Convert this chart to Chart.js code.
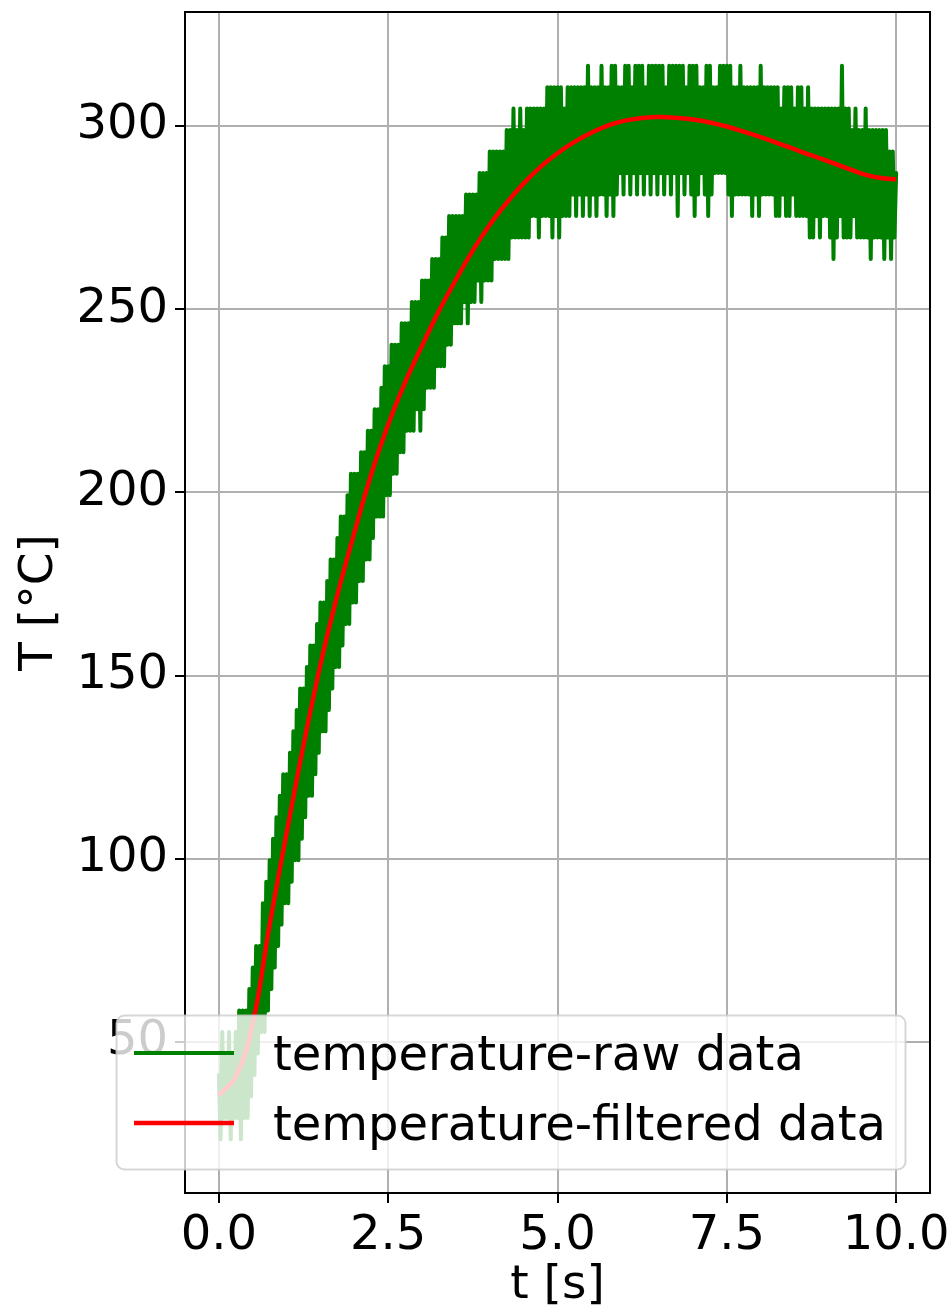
<!DOCTYPE html>
<html>
<head>
<meta charset="utf-8">
<script src="https://cdn.jsdelivr.net/npm/chart.js@4.4.1/dist/chart.umd.min.js"></script>
<style>
    html, body { margin: 0; padding: 0; background: #fff; }
    canvas { display: block; }
</style>
</head>
<body>
<canvas id="tempChart" width="951" height="1314"></canvas>
<script>
// thermocouple samples, ADC counts, one every RAW_DT seconds
const RAW_DT = 0.025;
const DEG_PER_COUNT = 1500 / 256;
const rawCounts = [
    7, 4, 9, 5, 8, 5, 9, 4, 8, 5,            9, 5, 10, 4, 10, 5, 10, 5, 11, 6,
    12, 7, 13, 8, 13, 9, 15, 9, 16, 10,      17, 11, 18, 12, 19, 13, 20, 14, 21, 15,
    21, 15, 22, 16, 23, 17, 24, 17, 25, 18,  25, 19, 26, 20, 27, 20, 27, 21, 28, 22,
    29, 23, 29, 23, 30, 24, 31, 25, 31, 26,  32, 26, 33, 27, 33, 28, 34, 28, 35, 29,
    35, 29, 35, 30, 36, 30, 36, 31, 37, 31,  37, 32, 38, 33, 38, 33, 39, 33, 40, 34,
    40, 34, 41, 35, 41, 35, 41, 36, 42, 36,  42, 37, 42, 37, 43, 37, 43, 38, 43, 37,
    44, 38, 44, 39, 44, 39, 45, 39, 45, 40,  45, 40, 46, 40, 46, 41, 47, 41, 47, 42,
    47, 42, 47, 42, 47, 43, 48, 42, 48, 43,  48, 43, 48, 44, 49, 43, 49, 44, 49, 44,
    50, 44, 50, 45, 50, 45, 50, 45, 50, 45,  51, 45, 51, 46, 52, 46, 51, 46, 52, 46,
    51, 46, 52, 46, 52, 47, 52, 47, 52, 46,  52, 47, 52, 47, 53, 47, 53, 46, 53, 47,
    53, 46, 53, 47, 52, 47, 53, 47, 53, 48,  53, 47, 53, 48, 53, 47, 53, 48, 54, 47,
    53, 48, 53, 47, 53, 48, 54, 48, 53, 47,  53, 48, 54, 47, 54, 48, 53, 49, 53, 48,
    54, 49, 54, 48, 53, 49, 54, 48, 54, 49,  54, 48, 53, 49, 54, 48, 54, 49, 54, 48,
    54, 49, 54, 48, 53, 49, 54, 48, 54, 49,  54, 47, 54, 49, 54, 48, 53, 49, 54, 48,
    54, 47, 54, 48, 53, 49, 53, 48, 54, 47,  54, 48, 53, 49, 53, 49, 54, 49, 54, 49,
    54, 48, 54, 47, 53, 48, 53, 48, 54, 48,  53, 48, 53, 48, 53, 47, 53, 48, 53, 47,
    54, 48, 53, 48, 53, 48, 53, 48, 53, 47,  53, 47, 52, 48, 53, 47, 53, 47, 53, 48,
    52, 47, 53, 47, 53, 47, 52, 47, 53, 46,  52, 46, 52, 47, 52, 46, 52, 47, 52, 47,
    52, 46, 52, 45, 52, 46, 52, 47, 54, 46,  52, 46, 52, 46, 51, 47, 52, 46, 51, 46,
    51, 46, 52, 46, 51, 45, 51, 46, 51, 46,  51, 46, 51, 45, 51, 46, 50, 45, 50, 46,
    49
];

// filtered temperature, °C
const filteredTime = [
    0, 0.25, 0.5, 0.75, 1, 1.25, 1.5, 1.75, 2, 2.25, 2.5, 2.75, 3, 3.25,
    3.5, 3.75, 4, 4.25, 4.5, 4.75, 5, 5.25, 5.5, 5.75, 6, 6.25, 6.5, 6.75,
    7, 7.25, 7.5, 7.75, 8, 8.25, 8.5, 8.75, 9, 9.25, 9.5, 9.75, 10
];
const filteredTemp = [
    35.5, 40.5, 55, 82, 107, 131, 153, 172, 189, 205, 218.5, 230, 240, 249.5,
    258, 266, 273, 279, 284.3, 288.8, 292.5, 295.6, 298.1, 300.1, 301.4, 302.1, 302.4, 302.2,
    301.7, 300.9, 299.8, 298.4, 296.9, 295.3, 293.6, 291.9, 290.3, 288.6, 286.9, 285.8, 285.4
];

const xTicks = [0, 2.5, 5, 7.5, 10];
const yTicks = [50, 100, 150, 200, 250, 300];
const seriesLabels = ['temperature-raw data', 'temperature-filtered data'];

const FONT = '"DejaVu Sans", "Liberation Sans", sans-serif';

const rawPoints = rawCounts.map((c, i) => ({ x: i * RAW_DT, y: c * DEG_PER_COUNT }));
const filteredPoints = filteredTime.map((t, i) => ({ x: t, y: filteredTemp[i] }));

// box round the axes, like a matplotlib frame
const framePlugin = {
    id: 'frame',
    afterDatasetsDraw(chart) {
        const { ctx, chartArea: a } = chart;
        ctx.save();
        ctx.strokeStyle = '#000';
        ctx.lineWidth = 2;
        ctx.strokeRect(a.left, a.top, a.right - a.left, a.bottom - a.top);
        ctx.restore();
    }
};

// legend drawn last so it sits over the axis and tick labels
const legendPlugin = {
    id: 'boxLegend',
    afterDraw(chart) {
        const { ctx } = chart;
        const box = { x: 116.5, y: 1015.5, w: 789, h: 154, r: 8 };
        ctx.save();
        ctx.beginPath();
        ctx.roundRect(box.x, box.y, box.w, box.h, box.r);
        ctx.fillStyle = 'rgba(255, 255, 255, 0.8)';
        ctx.fill();
        ctx.strokeStyle = 'rgba(204, 204, 204, 0.8)';
        ctx.lineWidth = 2;
        ctx.stroke();

        const rows = [
            { color: '#008000', width: 4, lineY: 1053, textY: 1070 },
            { color: '#ff0000', width: 4.5, lineY: 1123, textY: 1140 }
        ];
        rows.forEach((row, i) => {
            ctx.beginPath();
            ctx.moveTo(134, row.lineY);
            ctx.lineTo(234, row.lineY);
            ctx.strokeStyle = row.color;
            ctx.lineWidth = row.width;
            ctx.stroke();
            ctx.fillStyle = '#000';
            ctx.font = '48px ' + FONT;
            ctx.textBaseline = 'alphabetic';
            ctx.textAlign = 'left';
            ctx.fillText(seriesLabels[i], 273, row.textY);
        });
        ctx.restore();
    }
};

function fixedTicks(values) {
    return scale => {
        scale.ticks = values.map(v => ({ value: v }));
    };
}

const ctx = document.getElementById('tempChart').getContext('2d');
const chart = new Chart(ctx, {
    type: 'line',
    data: {
        datasets: [{
            label: seriesLabels[0],
            data: rawPoints,
            borderColor: '#008000',
            borderWidth: 4,
            borderJoinStyle: 'round',
            borderCapStyle: 'round',
            pointRadius: 0,
            tension: 0,
            order: 1
        }, {
            label: seriesLabels[1],
            data: filteredPoints,
            borderColor: '#ff0000',
            borderWidth: 4.5,
            borderJoinStyle: 'round',
            pointRadius: 0,
            tension: 0.4,
            order: 0
        }]
    },
    options: {
        responsive: false,
        animation: false,
        devicePixelRatio: 1,
        events: [],
        layout: { padding: { left: 0, top: 12, right: 21, bottom: 0 } },
        plugins: {
            legend: { display: false },
            tooltip: { enabled: false }
        },
        scales: {
            x: {
                type: 'linear',
                min: -0.5,
                max: 10.5,
                afterBuildTicks: fixedTicks(xTicks),
                afterFit: s => { s.height = 121; s.paddingLeft = 0; s.paddingRight = 0; },
                grid: { color: '#b0b0b0', lineWidth: 2, tickColor: '#000', tickWidth: 2, tickLength: 10 },
                border: { display: false },
                ticks: {
                    autoSkip: false,
                    maxRotation: 0,
                    padding: 5,
                    color: '#000',
                    font: { family: FONT, size: 48 },
                    callback: v => v.toFixed(1)
                },
                title: {
                    display: true,
                    text: 't [s]',
                    color: '#000',
                    font: { family: FONT, size: 47 },
                    padding: { top: 0, bottom: 0 }
                }
            },
            y: {
                min: 8.8,
                max: 331.05,
                afterBuildTicks: fixedTicks(yTicks),
                afterFit: s => { s.width = 185; s.paddingTop = 0; s.paddingBottom = 0; },
                grid: { color: '#b0b0b0', lineWidth: 2, tickColor: '#000', tickWidth: 2, tickLength: 10 },
                border: { display: false },
                ticks: {
                    autoSkip: false,
                    padding: 7,
                    color: '#000',
                    font: { family: FONT, size: 48 },
                    callback: v => String(v)
                },
                title: {
                    display: true,
                    text: 'T [°C]',
                    color: '#000',
                    font: { family: FONT, size: 47 },
                    padding: { top: 12, bottom: 0 }
                }
            }
        }
    },
    plugins: [framePlugin, legendPlugin]
});
</script>
</body>
</html>
